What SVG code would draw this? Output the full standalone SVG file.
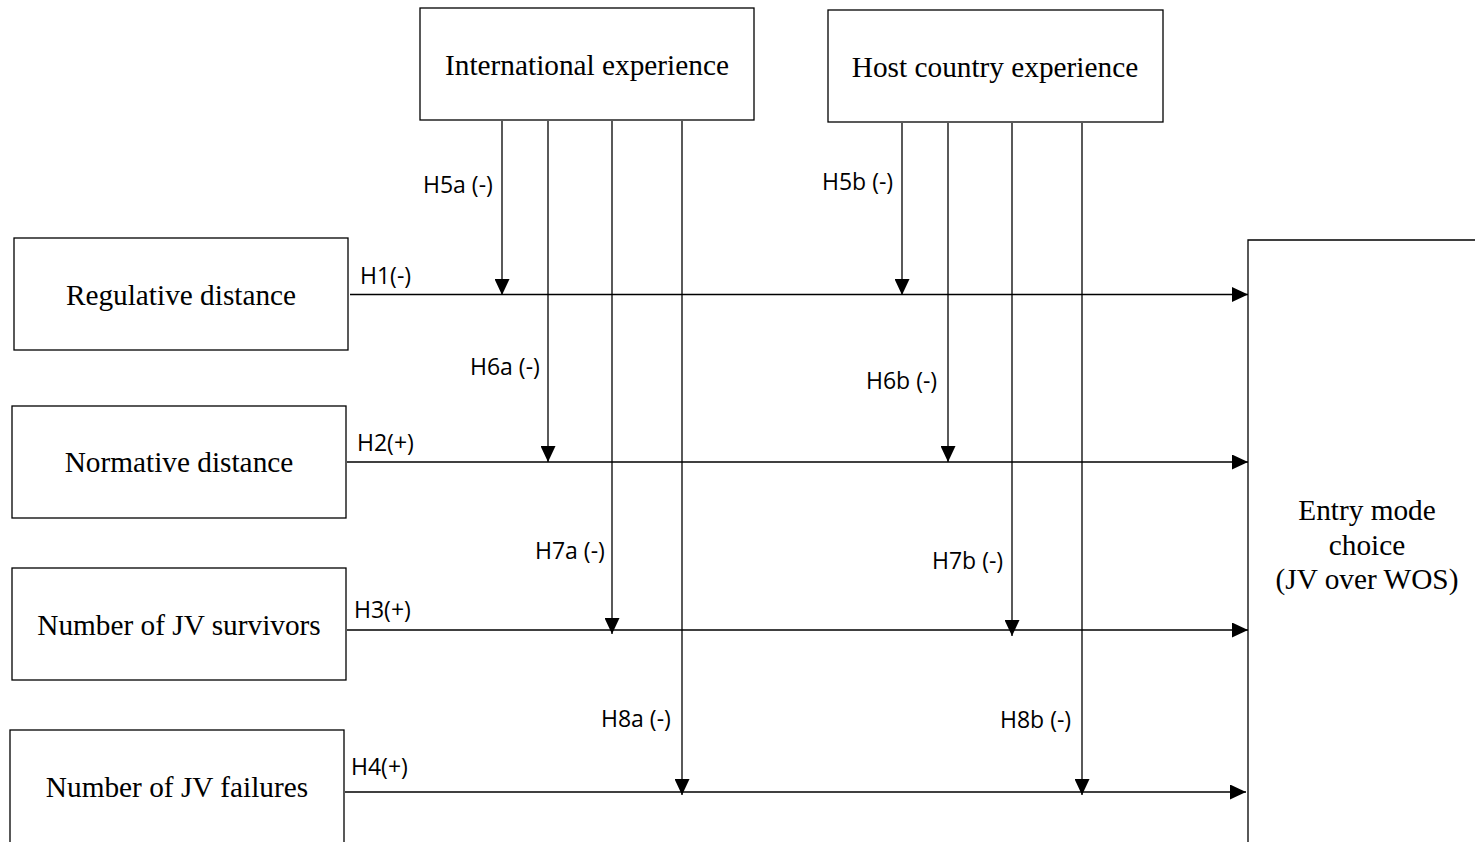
<svg xmlns="http://www.w3.org/2000/svg" width="1475" height="842" viewBox="0 0 1475 842">
<defs>
<marker id="ah" viewBox="0 0 16 15" refX="16" refY="7.5" markerWidth="16" markerHeight="15" markerUnits="userSpaceOnUse" orient="auto">
<path d="M0,0 L16,7.5 L0,15 Z" fill="#000"/>
</marker>
<style>
.box{fill:#fff;stroke:#000;stroke-width:1.3}
.t{font-family:"Liberation Serif","Times New Roman",serif;font-size:29.3px;fill:#000;text-anchor:middle}
.l{font-family:"Open Sans","Liberation Sans",sans-serif;font-size:23px;fill:#000}
.c{fill:none;stroke:#000;stroke-width:1.3;marker-end:url(#ah)}
</style>
</defs>
<rect width="1475" height="842" fill="#fff"/>
<g id="international">
<rect class="box" x="420" y="8" width="334" height="112"/>
<text class="t" x="587" y="75">International experience</text>
</g>
<g id="host">
<rect class="box" x="828" y="10" width="335" height="112"/>
<text class="t" x="995" y="77">Host country experience</text>
</g>
<g id="regulative">
<rect class="box" x="14" y="238" width="334" height="112"/>
<text class="t" x="181" y="305">Regulative distance</text>
</g>
<g id="normative">
<rect class="box" x="12" y="406" width="334" height="112"/>
<text class="t" x="179" y="472">Normative distance</text>
</g>
<g id="survivors">
<rect class="box" x="12" y="568" width="334" height="112"/>
<text class="t" x="179" y="635">Number of JV survivors</text>
</g>
<g id="failures">
<rect class="box" x="10" y="730" width="334" height="125"/>
<text class="t" x="177" y="797">Number of JV failures</text>
</g>
<g id="entry">
<path d="M1248,850 V240 H1480" fill="none" stroke="#000" stroke-width="1.3"/>
<text class="t" x="1367" y="520">Entry mode</text>
<text class="t" x="1367" y="555">choice</text>
<text class="t" x="1367" y="589">(JV over WOS)</text>
</g>
<g id="connectors">
<line class="c" x1="350" y1="294.5" x2="1248" y2="294.5"/>
<line class="c" x1="347" y1="462" x2="1248" y2="462"/>
<line class="c" x1="347" y1="630" x2="1248" y2="630"/>
<line class="c" x1="345" y1="792" x2="1246" y2="792"/>
<line class="c" x1="502" y1="121" x2="502" y2="295"/>
<line class="c" x1="548" y1="121" x2="548" y2="462"/>
<line class="c" x1="612" y1="121" x2="612" y2="634"/>
<line class="c" x1="682" y1="121" x2="682" y2="795"/>
<line class="c" x1="902" y1="123" x2="902" y2="295"/>
<line class="c" x1="948" y1="123" x2="948" y2="462"/>
<line class="c" x1="1012" y1="123" x2="1012" y2="636"/>
<line class="c" x1="1082" y1="123" x2="1082" y2="795"/>
</g>
<g id="labels">
<text class="l" x="360" y="284">H1(-)</text>
<text class="l" x="357" y="451">H2(+)</text>
<text class="l" x="354" y="618">H3(+)</text>
<text class="l" x="351" y="775">H4(+)</text>
<text class="l" x="423" y="193">H5a (-)</text>
<text class="l" x="822" y="190">H5b (-)</text>
<text class="l" x="470" y="375">H6a (-)</text>
<text class="l" x="866" y="389">H6b (-)</text>
<text class="l" x="535" y="559">H7a (-)</text>
<text class="l" x="932" y="569">H7b (-)</text>
<text class="l" x="601" y="727">H8a (-)</text>
<text class="l" x="1000" y="728">H8b (-)</text>
</g>
</svg>
